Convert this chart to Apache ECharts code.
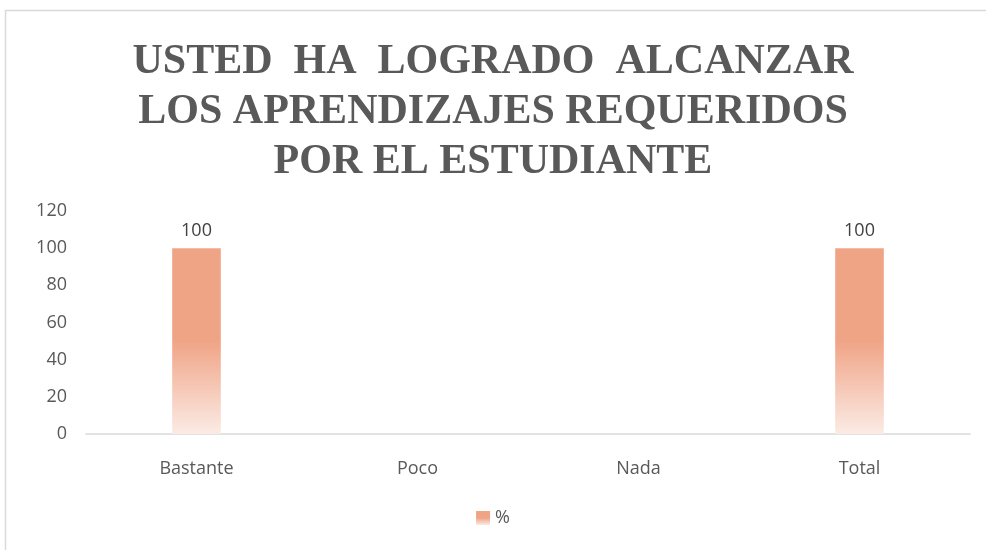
<!DOCTYPE html>
<html>
<head>
    <meta charset="utf-8">
    <title>Aprendizajes</title>
    <script src="https://cdn.jsdelivr.net/npm/echarts@6/dist/echarts.min.js"></script>
    <style>
        html, body { margin: 0; padding: 0; background: #fff; }
        #main { width: 986px; height: 550px; }
    </style>
</head>
<body>
    <div id="main"></div>
    <script type="text/javascript">
        var categories = ['Bastante', 'Poco', 'Nada', 'Total'];
        var porcentaje = [100, 0, 0, 100];
        var yTicks = [0, 20, 40, 60, 80, 100, 120];

        var myChart = echarts.init(document.getElementById('main'));

        var barFill = new echarts.graphic.LinearGradient(0, 0, 0, 1, [
            { offset: 0, color: '#F0A486' },
            { offset: 0.5, color: '#F0A486' },
            { offset: 1, color: '#FBEBE5' }
        ]);

        myChart.setOption({
            graphic: [{
                type: 'rect',
                shape: { x: 5.5, y: 10.5, width: 1000, height: 600 },
                style: { fill: 'none', stroke: '#d9d9d9', lineWidth: 1.5 },
                silent: true
            }],
            title: {
                text: 'USTED  HA  LOGRADO  ALCANZAR\nLOS APRENDIZAJES REQUERIDOS\nPOR EL ESTUDIANTE',
                left: 'center',
                top: 32,
                textStyle: {
                    fontFamily: '"Liberation Serif", "Times New Roman", serif',
                    fontWeight: 'bold',
                    fontSize: 42,
                    lineHeight: 50,
                    color: '#595959'
                }
            },
            legend: {
                bottom: 18,
                left: 'center',
                icon: 'rect',
                itemWidth: 14,
                itemHeight: 14,
                itemGap: 6,
                textStyle: { fontFamily: '"Open Sans", sans-serif', fontSize: 18, color: '#595959' },
                data: ['%']
            },
            grid: {
                left: 86,
                right: 16,
                top: 211,
                bottom: 116
            },
            xAxis: {
                type: 'category',
                data: categories,
                axisLine: { lineStyle: { color: '#d9d9d9', width: 1.5 } },
                axisTick: { show: false },
                axisLabel: { margin: 26, fontFamily: '"Open Sans", sans-serif', fontSize: 18, color: '#595959' }
            },
            yAxis: {
                type: 'value',
                min: yTicks[0],
                max: yTicks[yTicks.length - 1],
                interval: 20,
                splitLine: { show: false },
                axisLabel: { margin: 19, fontFamily: '"Open Sans", sans-serif', fontSize: 18, color: '#595959' }
            },
            series: [{
                name: '%',
                type: 'bar',
                barWidth: '22%',
                data: porcentaje,
                itemStyle: { color: barFill },
                label: {
                    show: true,
                    position: 'top',
                    distance: 8,
                    fontFamily: '"Open Sans", sans-serif',
                    fontSize: 18,
                    color: '#404040',
                    formatter: function (p) { return p.value ? p.value : ''; }
                }
            }]
        });
    </script>
</body>
</html>
